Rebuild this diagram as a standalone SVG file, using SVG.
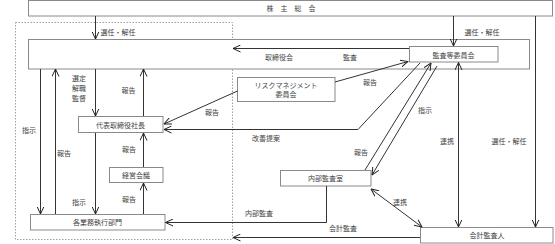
<svg xmlns="http://www.w3.org/2000/svg" width="555" height="244" viewBox="0 0 555 244">
<defs>
<marker id="ah" viewBox="0 0 8 8" refX="7.5" refY="4" markerWidth="8" markerHeight="8" markerUnits="userSpaceOnUse" orient="auto-start-reverse">
<path d="M0,0.5 L7.5,4 L0,7.5" fill="none" stroke="#222" stroke-width="1"/>
</marker>
<style>
.box{fill:#fff;stroke:#8a8a8a;stroke-width:1}
.c{fill:none;stroke:#333;stroke-width:1}
.t{font-family:"Noto Sans CJK JP","Noto Sans",sans-serif;font-size:7px;fill:#444;text-anchor:middle;dominant-baseline:central}
.dash{fill:none;stroke:#888;stroke-width:0.8;stroke-dasharray:1.5,1.5}
</style>
</defs>
<rect width="555" height="244" fill="#fff"/>
<rect class="dash" x="15.5" y="22.5" width="217" height="217"/>
<g id="kabunushi">
<rect class="box" x="28.5" y="0.5" width="524" height="15.5"/>
<text class="t" x="270" y="8">株</text><text class="t" x="284" y="8">主</text><text class="t" x="298" y="8">総</text><text class="t" x="312" y="8">会</text>
</g>
<g id="torishimariyakukai">
<rect class="box" x="28.5" y="39.5" width="501" height="29.5"/>
<text class="t" x="279" y="57">取締役会</text>
</g>
<g id="kansatou">
<rect class="box" x="409.5" y="46.5" width="88.5" height="15.5"/>
<text class="t" x="453.5" y="54.5">監査等委員会</text>
</g>
<g id="risk">
<rect class="box" x="237.5" y="77.5" width="97.5" height="24"/>
<text class="t" x="286" y="84.5">リスクマネジメント</text>
<text class="t" x="286" y="94">委員会</text>
</g>
<g id="daihyou">
<rect class="box" x="78.5" y="116.5" width="84.5" height="16"/>
<text class="t" x="120.5" y="124.5">代表取締役社長</text>
</g>
<g id="keiei">
<rect class="box" x="109.5" y="167.5" width="53.5" height="15"/>
<text class="t" x="136" y="175">経営会議</text>
</g>
<g id="gyoumu">
<rect class="box" x="30.5" y="214.5" width="134.5" height="15.5"/>
<text class="t" x="97.5" y="222">各業務執行部門</text>
</g>
<g id="naibu">
<rect class="box" x="280.5" y="170.5" width="90.5" height="15.5"/>
<text class="t" x="325.5" y="178">内部監査室</text>
</g>
<g id="kaikei">
<rect class="box" x="420.5" y="227.5" width="132.5" height="15.5"/>
<text class="t" x="487" y="235">会計監査人</text>
</g>
<g id="connectors">
<line class="c" x1="95.5" y1="16" x2="95.5" y2="39" marker-end="url(#ah)"/>
<line class="c" x1="453.5" y1="16" x2="453.5" y2="46" marker-end="url(#ah)"/>
<line class="c" x1="535.5" y1="16" x2="535.5" y2="227" marker-end="url(#ah)"/>
<line class="c" x1="409" y1="48.5" x2="233" y2="48.5" marker-end="url(#ah)"/>
<line class="c" x1="335" y1="82" x2="408" y2="61.5" marker-end="url(#ah)"/>
<line class="c" x1="237.5" y1="91" x2="164" y2="124" marker-end="url(#ah)"/>
<polyline class="c" points="420,63 358,129.5 164,129.5" marker-end="url(#ah)"/>
<line class="c" x1="365" y1="170" x2="431" y2="63" marker-end="url(#ah)"/>
<line class="c" x1="437" y1="66" x2="372" y2="175" marker-end="url(#ah)"/>
<line class="c" x1="458.5" y1="62.5" x2="458.5" y2="227" marker-start="url(#ah)" marker-end="url(#ah)"/>
<line class="c" x1="371" y1="189" x2="422" y2="227" marker-start="url(#ah)" marker-end="url(#ah)"/>
<polyline class="c" points="326.5,186 326.5,222.5 165.5,222.5" marker-end="url(#ah)"/>
<line class="c" x1="420" y1="237.5" x2="233" y2="237.5" marker-end="url(#ah)"/>
<line class="c" x1="95.5" y1="69" x2="95.5" y2="116" marker-end="url(#ah)"/>
<line class="c" x1="143.5" y1="116" x2="143.5" y2="69" marker-end="url(#ah)"/>
<line class="c" x1="143.5" y1="167" x2="143.5" y2="133" marker-end="url(#ah)"/>
<line class="c" x1="143.5" y1="214" x2="143.5" y2="183" marker-end="url(#ah)"/>
<line class="c" x1="95.5" y1="133" x2="95.5" y2="214" marker-end="url(#ah)"/>
<line class="c" x1="40.5" y1="69" x2="40.5" y2="214" marker-end="url(#ah)"/>
<line class="c" x1="55.5" y1="214" x2="55.5" y2="69" marker-end="url(#ah)"/>
</g>
<g id="labels">
<text class="t" x="118" y="32">選任・解任</text>
<text class="t" x="482" y="32">選任・解任</text>
<text class="t" x="509" y="141">選任・解任</text>
<text class="t" x="350" y="57">監査</text>
<text class="t" x="370" y="82">報告</text>
<text class="t" x="212" y="112">報告</text>
<text class="t" x="79" y="78">選定</text>
<text class="t" x="79" y="88">解職</text>
<text class="t" x="79" y="98">監督</text>
<text class="t" x="128.5" y="90">報告</text>
<text class="t" x="266" y="138">改善提案</text>
<text class="t" x="425" y="110">指示</text>
<text class="t" x="361" y="152">報告</text>
<text class="t" x="447" y="141">連携</text>
<text class="t" x="400" y="202">連携</text>
<text class="t" x="343" y="228">会計監査</text>
<text class="t" x="259" y="213">内部監査</text>
<text class="t" x="79" y="202">指示</text>
<text class="t" x="129" y="149">報告</text>
<text class="t" x="129" y="199">報告</text>
<text class="t" x="29" y="130">指示</text>
<text class="t" x="64" y="153">報告</text>
</g>
</svg>
